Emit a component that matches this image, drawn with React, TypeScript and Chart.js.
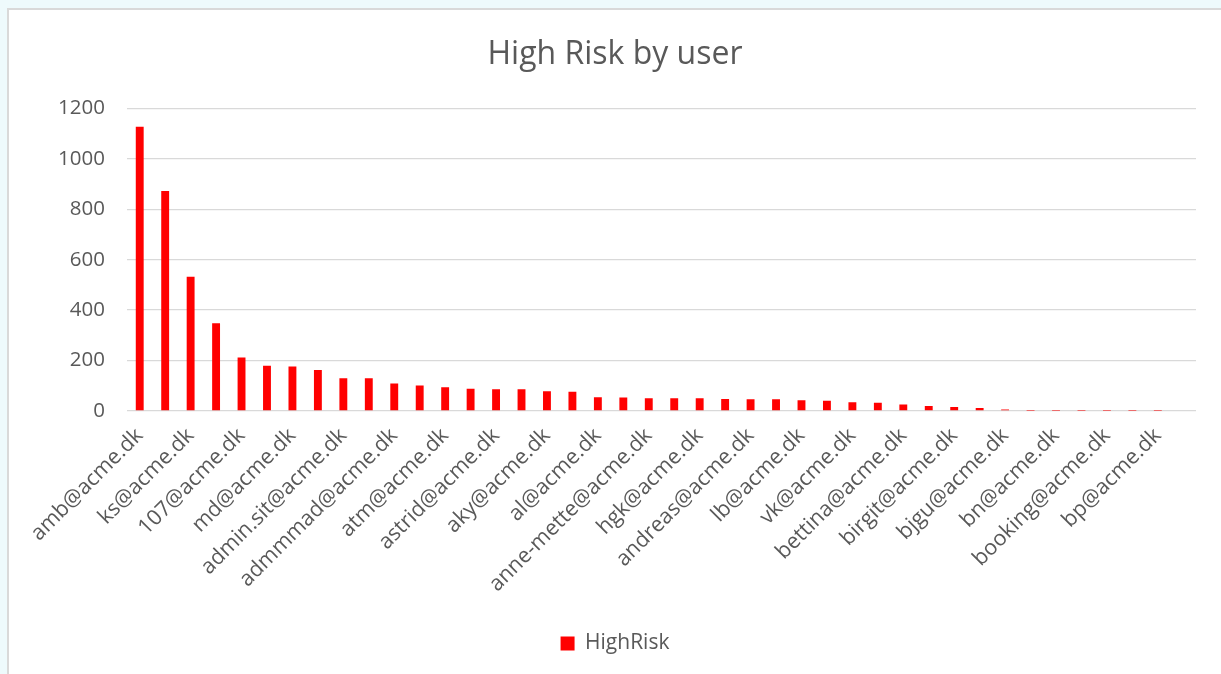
import React, { useEffect, useRef } from "react";
import { Chart, registerables } from "chart.js";

Chart.register(...registerables);

// Users on the category axis; only every other name is printed under the axis.
const categories: string[] = [
  "amb@acme.dk", "", "ks@acme.dk", "", "107@acme.dk", "", "md@acme.dk", "",
  "admin.sit@acme.dk", "", "admmmad@acme.dk", "", "atm@acme.dk", "",
  "astrid@acme.dk", "", "aky@acme.dk", "", "al@acme.dk", "",
  "anne-mette@acme.dk", "", "hgk@acme.dk", "", "andreas@acme.dk", "",
  "lb@acme.dk", "", "vk@acme.dk", "", "bettina@acme.dk", "",
  "birgit@acme.dk", "", "bjgu@acme.dk", "", "bn@acme.dk", "",
  "booking@acme.dk", "", "bp@acme.dk", "",
];

// High risk count per user.
const highRisk: number[] = [
  1127, 872, 532, 348, 212, 179, 176, 163, 130, 130, 109, 101, 94, 88,
  86, 86, 78, 76, 55, 54, 51, 51, 51, 48, 47, 47, 43, 41, 35, 33,
  26, 20, 16, 12, 6, 1, 1, 1, 1, 1, 1, 0,
];

const yTicks: number[] = [0, 200, 400, 600, 800, 1000, 1200];

const TEXT = "#595959";
const GRID = "#d9d9d9";
const FONT = "'Open Sans', sans-serif";

export default function App() {
  const canvasRef = useRef<HTMLCanvasElement | null>(null);

  useEffect(() => {
    document.body.style.margin = "0";
    document.body.style.background = "#eefafc";
    const canvas = canvasRef.current;
    if (!canvas) return;

    const chart = new Chart(canvas, {
      type: "bar",
      data: {
        labels: categories,
        datasets: [
          {
            label: "HighRisk",
            data: highRisk,
            backgroundColor: "#ff0000",
            borderWidth: 0,
            barPercentage: 0.31,
            categoryPercentage: 1,
          },
        ],
      },
      options: {
        animation: false,
        responsive: false,
        maintainAspectRatio: false,
        layout: { padding: { left: 0, right: 0, top: 0, bottom: 10 } },
        plugins: {
          tooltip: { enabled: false },
          title: {
            display: true,
            text: "High Risk by user",
            color: TEXT,
            font: { family: FONT, size: 32, weight: "normal", lineHeight: 1.2 },
            padding: { top: 26, bottom: 34 },
          },
          legend: {
            position: "bottom",
            labels: {
              color: TEXT,
              font: { family: FONT, size: 21 },
              boxWidth: 14,
              boxHeight: 14,
              padding: 10,
            },
          },
        },
        scales: {
          x: {
            grid: { display: false },
            border: { display: false },
            ticks: {
              autoSkip: false,
              minRotation: 45,
              maxRotation: 45,
              padding: 4,
              color: TEXT,
              font: { family: FONT, size: 21.5 },
            },
            afterFit: (scale: any) => {
              scale.height = 212;
            },
          },
          y: {
            min: 0,
            max: 1200,
            afterBuildTicks: (scale: any) => {
              scale.ticks = yTicks.map((v) => ({ value: v }));
            },
            grid: { color: GRID, lineWidth: 1.3, drawTicks: false },
            border: { display: false },
            ticks: {
              padding: 22,
              color: TEXT,
              font: { family: FONT, size: 20.5 },
              callback: (v: any) => String(v),
            },
            afterFit: (scale: any) => {
              scale.width = 118;
            },
          },
          // empty right-hand margin so the title and legend centre on the full width
          yRight: {
            position: "right",
            display: true,
            grid: { display: false, drawTicks: false },
            border: { display: false },
            ticks: { display: false },
            afterFit: (scale: any) => {
              scale.width = 25;
            },
          },
        },
      },
    });

    return () => chart.destroy();
  }, []);

  return (
    <div
      style={{
        position: "absolute",
        left: 7,
        top: 8,
        width: 1214,
        height: 666,
        boxSizing: "border-box",
        borderLeft: `2px solid ${GRID}`,
        borderTop: `2px solid ${GRID}`,
        background: "#ffffff",
      }}
    >
      <canvas ref={canvasRef} width={1212} height={664} style={{ display: "block" }} />
    </div>
  );
}
